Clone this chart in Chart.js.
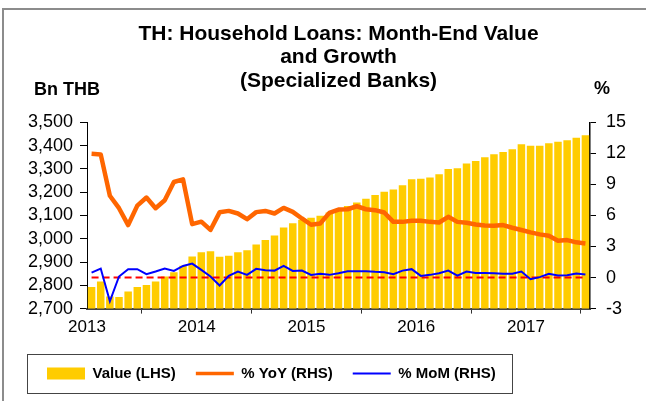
<!DOCTYPE html>
<html>
<head>
<meta charset="utf-8">
<script src="https://cdn.jsdelivr.net/npm/chart.js@4.4.0/dist/chart.umd.min.js"></script>
<style>
  html, body { margin: 0; padding: 0; background: #fff; }
  #chart { display: block; }
</style>
</head>
<body>
<canvas id="chart" width="646" height="401"></canvas>
<script>
// monthly data, Jan 2013 .. Jul 2017
const years = [2013, 2014, 2015, 2016, 2017];

const valueLHS = [
  2793, 2816, 2752, 2750, 2773, 2793, 2801, 2816, 2838, 2856, 2884, 2924,
  2942, 2946, 2923, 2927, 2942, 2951, 2975, 2995, 3014, 3048, 3067, 3081,
  3090, 3099, 3113, 3127, 3141, 3156, 3172, 3188, 3202, 3211, 3230, 3255,
  3258, 3263, 3277, 3299, 3303, 3323, 3334, 3350, 3363, 3373, 3384, 3406,
  3399, 3399, 3410, 3416, 3423, 3434, 3444
];

const yoyRHS = [
  11.96, 11.9, 7.9, 6.7, 5.07, 6.95, 7.73, 6.7, 7.47, 9.23, 9.49, 5.16,
  5.4, 4.6, 6.3, 6.44, 6.19, 5.64, 6.32, 6.44, 6.19, 6.73, 6.35, 5.71,
  5.1, 5.23, 6.25, 6.57, 6.6, 6.89, 6.6, 6.51, 6.29, 5.38, 5.38, 5.48,
  5.48, 5.38, 5.32, 5.87, 5.38, 5.29, 5.13, 5.03, 5.0, 5.07, 4.81, 4.59,
  4.36, 4.17, 4.04, 3.56, 3.62, 3.4, 3.3
];

const momRHS = [
  0.48, 0.87, -2.3, 0.1, 0.81, 0.81, 0.32, 0.58, 0.87, 0.64, 1.12, 1.35,
  0.74, 0.1, -0.77, 0.16, 0.58, 0.26, 0.84, 0.71, 0.67, 1.12, 0.64, 0.67,
  0.25, 0.36, 0.26, 0.42, 0.61, 0.61, 0.61, 0.55, 0.52, 0.32, 0.67, 0.81,
  0.16, 0.26, 0.42, 0.67, 0.19, 0.58, 0.45, 0.45, 0.42, 0.36, 0.36, 0.58,
  -0.16, 0.04, 0.36, 0.19, 0.23, 0.39, 0.29
];

const titleLines = ['TH: Household Loans: Month-End Value', 'and Growth', '(Specialized Banks)'];

// month i sits in the middle of its slot on a linear x scale
function toPoints(arr) {
  return arr.map((v, i) => ({ x: i + 0.5, y: v }));
}

function withCommas(v) {
  return String(v).replace(/\B(?=(\d{3})+(?!\d))/g, ',');
}

Chart.defaults.font.family = "'Liberation Sans', Arial, sans-serif";
Chart.defaults.color = '#000';

const decor = {
  id: 'decor',
  beforeDraw(chart) {
    const ctx = chart.ctx;
    ctx.save();
    ctx.strokeStyle = '#8c8c8c';
    ctx.lineWidth = 2;
    ctx.beginPath();
    ctx.moveTo(3, chart.height);
    ctx.lineTo(3, 9);
    ctx.lineTo(chart.width, 9);
    ctx.stroke();
    ctx.restore();
  },
  // red dashed zero line, above the bars but under the lines
  afterDatasetDraw(chart, args) {
    if (args.index !== 0) return;
    const ctx = chart.ctx;
    const x = chart.scales.x;
    const py = chart.scales.y1.getPixelForValue(0);
    ctx.save();
    ctx.strokeStyle = '#ff0000';
    ctx.lineWidth = 2;
    ctx.setLineDash([7, 4]);
    ctx.beginPath();
    ctx.moveTo(x.getPixelForValue(0.5), py);
    ctx.lineTo(x.getPixelForValue(valueLHS.length - 0.5), py);
    ctx.stroke();
    ctx.restore();
  },
  afterDraw(chart) {
    const ctx = chart.ctx;
    const area = chart.chartArea;
    ctx.save();
    ctx.fillStyle = '#000';
    ctx.font = "bold 18px 'Liberation Sans', Arial, sans-serif";
    ctx.textBaseline = 'middle';
    ctx.textAlign = 'left';
    ctx.fillText('Bn THB', 34, area.top - 32);
    ctx.textAlign = 'center';
    ctx.fillText('%', area.right + 12, area.top - 33);

    // frame round the legend
    const boxes = chart.legend.legendHitBoxes;
    if (boxes && boxes.length) {
      const first = boxes[0];
      const last = boxes[boxes.length - 1];
      const left = first.left - 20;
      const right = last.left + last.width + 16;
      const top = first.top - 12;
      const bottom = first.top + first.height + 12;
      ctx.strokeStyle = '#444';
      ctx.lineWidth = 1;
      ctx.strokeRect(Math.round(left) + 0.5, Math.round(top) + 0.5, Math.round(right - left), Math.round(bottom - top));
    }
    ctx.restore();
  }
};

const ctx = document.getElementById('chart').getContext('2d');

new Chart(ctx, {
  data: {
    datasets: [
      {
        type: 'bar',
        label: 'Value (LHS)',
        data: toPoints(valueLHS),
        yAxisID: 'y',
        backgroundColor: '#ffcc00',
        barPercentage: 0.82,
        categoryPercentage: 1,
        order: 3
      },
      {
        type: 'line',
        label: '% YoY (RHS)',
        data: toPoints(yoyRHS),
        yAxisID: 'y1',
        borderColor: '#ff6600',
        backgroundColor: '#ff6600',
        borderWidth: 4.5,
        pointRadius: 0,
        tension: 0,
        borderJoinStyle: 'round',
        order: 2
      },
      {
        type: 'line',
        label: '% MoM (RHS)',
        data: toPoints(momRHS),
        yAxisID: 'y1',
        borderColor: '#0000ff',
        backgroundColor: '#0000ff',
        borderWidth: 2,
        pointRadius: 0,
        tension: 0,
        order: 1
      }
    ]
  },
  options: {
    responsive: false,
    animation: false,
    devicePixelRatio: 1,
    layout: {
      padding: { left: 27, right: 0, top: 8, bottom: 10 }
    },
    plugins: {
      title: {
        display: true,
        text: titleLines,
        fullSize: false,
        color: '#000',
        font: { size: 21, weight: 'bold', lineHeight: 1.1 },
        padding: { top: 15, bottom: 30 }
      },
      legend: {
        position: 'bottom',
        align: 'start',
        labels: {
          usePointStyle: true,
          pointStyleWidth: 38,
          boxHeight: 12,
          padding: 20,
          color: '#000',
          font: { size: 15, weight: 'bold' },
          sort: (a, b) => a.datasetIndex - b.datasetIndex,
          generateLabels: (chart) => chart.data.datasets.map((ds, i) => ({
            text: ds.label,
            datasetIndex: i,
            fillStyle: ds.type === 'bar' ? ds.backgroundColor : ds.borderColor,
            strokeStyle: ds.type === 'bar' ? ds.backgroundColor : ds.borderColor,
            lineWidth: ds.type === 'bar' ? 0 : Math.min(ds.borderWidth, 3.5),
            pointStyle: ds.type === 'bar' ? 'rect' : 'line',
            hidden: false
          }))
        }
      },
      tooltip: { enabled: false }
    },
    scales: {
      x: {
        type: 'linear',
        min: 0,
        max: valueLHS.length,
        offset: false,
        afterBuildTicks: (scale) => {
          scale.ticks = years.map(yr => ({ value: (yr - years[0]) * 12 }));
        },
        afterFit: (scale) => { scale.height += 4; },
        ticks: {
          callback: (v) => years[0] + v / 12,
          font: { size: 17 },
          color: '#000',
          maxRotation: 0,
          autoSkip: false,
          padding: 4
        },
        grid: { drawOnChartArea: false, tickLength: 5, tickColor: '#333', tickWidth: 1 },
        border: { color: '#444', width: 2 }
      },
      y: {
        position: 'left',
        min: 2700,
        max: 3500,
        afterFit: (scale) => { scale.width = 60; },
        ticks: {
          stepSize: 100,
          autoSkip: false,
          callback: (v) => withCommas(v),
          font: { size: 18 },
          color: '#000',
          padding: 7
        },
        grid: { drawOnChartArea: false, tickLength: 7, tickColor: '#000' },
        border: { color: '#000', width: 1 }
      },
      y1: {
        position: 'right',
        min: -3,
        max: 15,
        afterFit: (scale) => { scale.width = 56; },
        ticks: {
          stepSize: 3,
          autoSkip: false,
          font: { size: 18 },
          color: '#000',
          padding: 10
        },
        grid: { drawOnChartArea: false, tickLength: 6, tickColor: '#000' },
        border: { color: '#000', width: 1.5 }
      }
    }
  },
  plugins: [decor]
});
</script>
</body>
</html>
